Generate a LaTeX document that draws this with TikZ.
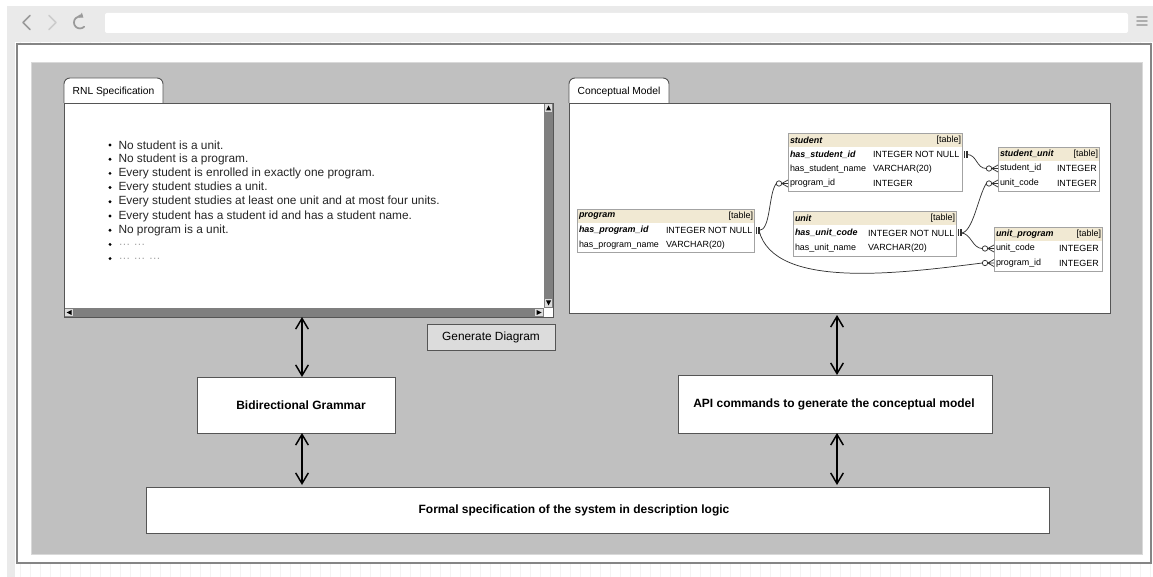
\documentclass[tikz,border=0pt]{standalone}
\usepackage{fontspec}
\setmainfont{Liberation Sans}
\usetikzlibrary{arrows.meta,positioning,calc}

\definecolor{bargray}{HTML}{EAEAEA}
\definecolor{gridgray}{HTML}{F3F3F3}
\definecolor{icongray}{HTML}{9A9A9A}
\definecolor{framegray}{HTML}{858585}
\definecolor{panelgray}{HTML}{C0C0C0}
\definecolor{edgegray}{HTML}{555555}
\definecolor{scrollgray}{HTML}{7F7F7F}
\definecolor{btngray}{HTML}{DCDCDC}
\definecolor{tblbeige}{HTML}{F1E9D3}
\definecolor{tblline}{HTML}{A3A3A3}

\newcommand{\pxu}{0.75pt}
% one end: two bars right of the table border
\newcommand{\onemark}[1]{\draw[erline, line width=1.2pt] ($(#1)+(2.5,-3.5)$) -- ++(0,7) ($(#1)+(5,-3.5)$) -- ++(0,7);}
% many end: circle and crow foot left of the table border
\newcommand{\manymark}[1]{%
  \draw[erline] ($(#1)+(-6.3,0)$) -- (#1) ($(#1)+(-6.3,0)$) -- ($(#1)+(0,-3.5)$) ($(#1)+(-6.3,0)$) -- ($(#1)+(0,3.5)$);
  \draw[erline, fill=white] ($(#1)+(-9,0)$) circle[radius=2.7];}

\begin{document}
\begin{tikzpicture}[x=0.75pt, y=-0.75pt]

\tikzset{every node/.style = {inner sep=0pt, outer sep=0pt}}
\tikzset{icon/.style = {draw=icongray, line width=1.3pt, line cap=round, line join=round}}
\tikzset{tabshape/.style = {draw=edgegray, fill=white, line width=0.7pt, rounded corners=4.5pt}}
\tikzset{tablabel/.style = {font=\fontsize{7.7}{9}\selectfont}}
\tikzset{pane/.style = {rectangle, draw=edgegray, fill=white, line width=0.7pt}}
\tikzset{listitem/.style = {anchor=west, text=black!85, font=\fontsize{8.9}{10}\selectfont}}
\tikzset{procbox/.style = {rectangle, draw=edgegray, fill=white, line width=0.7pt}}
\tikzset{proctext/.style = {font=\fontsize{9}{11}\selectfont\bfseries}}
\tikzset{genbtn/.style = {rectangle, draw=edgegray, fill=btngray, line width=0.7pt, font=\fontsize{8.9}{10}\selectfont}}
\tikzset{biarrow/.style = {{Straight Barb[length=8pt,width=9.5pt]}-{Straight Barb[length=8pt,width=9.5pt]}, line width=1.1pt}}
\tikzset{tblbox/.style = {rectangle, draw=tblline, fill=white, line width=0.6pt, anchor=north west}}
\tikzset{tblhd/.style = {rectangle, fill=tblbeige, anchor=north west, minimum height=14*\pxu}}
\tikzset{tbltxt/.style = {anchor=west, font=\fontsize{6.7}{8}\selectfont}}
\tikzset{tblkey/.style = {anchor=west, font=\fontsize{6.7}{8}\selectfont\bfseries\itshape}}
\tikzset{tbltag/.style = {anchor=east, font=\fontsize{6.7}{8}\selectfont}}
\tikzset{erline/.style = {draw=black!80, line width=0.55pt}}

\useasboundingbox (0,0) rectangle (1153,577);

% browser window
\fill[bargray] (7,6) rectangle (1153,42);
\fill[bargray] (7,42) rectangle (15,577);
\draw[gridgray, step=10] (15,42) grid (1153,577);
\fill[white, rounded corners=1.5pt] (105,13) rectangle (1128,33);
\draw[icon] (30,15.5) -- (23,22.5) -- (30,29.5);
\draw[icon, draw=icongray!50] (49,15.5) -- (56,22.5) -- (49,29.5);
\draw[icon, -{Triangle[length=3pt,width=4.5pt]}] (84.2,26.7) arc[start angle=45, end angle=305, radius=6];
\draw[icon, draw=icongray!80, line width=1.4pt] (1137,17) -- (1147,17) (1137,21) -- (1147,21) (1137,25) -- (1147,25);
\draw[draw=framegray, fill=white, line width=1pt] (17,44) rectangle (1151,563);
\draw[draw=panelgray!60!white, fill=panelgray, line width=0.6pt] (31,62) rectangle (1142,554);

% RNL specification pane
\draw[tabshape] (64,103) -- (64,78) -- (163,78) -- (163,103);
\node[tablabel] (rnltab) at (113.5,91.5) {RNL Specification};
\node[pane, minimum width=489*\pxu, minimum height=214*\pxu] (rnl) at (308.5,210) {};
\fill[scrollgray] (544,103) rectangle (553,308);
\fill[scrollgray] (64,308) rectangle (544,317);
\fill[white] (544,308) rectangle (553,317);
\fill[btngray] (545,104) rectangle (552,112);
\fill (546,110.5) -- (551,110.5) -- (548.5,105.5) -- cycle;
\fill[btngray] (545,299) rectangle (552,307);
\fill (546,300.5) -- (551,300.5) -- (548.5,305.5) -- cycle;
\fill[btngray] (65,309) rectangle (73,316);
\fill (71.5,310) -- (71.5,315) -- (66.5,312.5) -- cycle;
\fill[btngray] (535,309) rectangle (543,316);
\fill (536.5,310) -- (536.5,315) -- (541.5,312.5) -- cycle;
\draw[edgegray, line width=0.7pt] (rnl.north west) rectangle (rnl.south east);

\foreach \rule [count=\i from 0] in {No student is a unit., No student is a program., Every student is enrolled in exactly one program., Every student studies a unit., Every student studies at least one unit and at most four units., Every student has a student id and has a student name., No program is a unit.}
{
  \fill (110,145+14.2*\i) circle[radius=1.6];
  \node[listitem] (rule\i) at (118.5,145+14.2*\i) {\rule};
}
\fill (110,244.4) circle[radius=1.6];
\node[listitem, text=black!35] (more1) at (118.5,244.4) {… …};
\fill (110,258.6) circle[radius=1.6];
\node[listitem, text=black!35] (more2) at (118.5,258.6) {… … …};

\node[genbtn, minimum width=128*\pxu, minimum height=26*\pxu] (gen) at (491,337) {Generate Diagram};

% conceptual model pane
\draw[tabshape] (569,103) -- (569,78) -- (669,78) -- (669,103);
\node[tablabel] (cmtab) at (619,91.5) {Conceptual Model};
\node[pane, minimum width=541*\pxu, minimum height=210*\pxu] (cm) at (839.5,208) {};

% tables
\node[tblbox, minimum width=177*\pxu, minimum height=43*\pxu] (program)  at (577,209) {};
\node[tblhd,  minimum width=177*\pxu]                         (programh) at (577,209) {};
\node[tblkey] (prog_t)  at (579,216)   {program};
\node[tbltag] (prog_g)  at (753,216)   {[table]};
\node[tblkey] (prog_r1) at (579,230.5) {has\_program\_id};
\node[tbltxt] (prog_c1) at (666,230.5) {INTEGER NOT NULL};
\node[tbltxt] (prog_r2) at (579,245)   {has\_program\_name};
\node[tbltxt] (prog_c2) at (666,245)   {VARCHAR(20)};

\node[tblbox, minimum width=174*\pxu, minimum height=58*\pxu] (student)  at (788,133) {};
\node[tblhd,  minimum width=174*\pxu]                         (studenth) at (788,133) {};
\node[tblkey] (stu_t)  at (790,140)   {student};
\node[tbltag] (stu_g)  at (961,140)   {[table]};
\node[tblkey] (stu_r1) at (790,154.5) {has\_student\_id};
\node[tbltxt] (stu_c1) at (873,154.5) {INTEGER NOT NULL};
\node[tbltxt] (stu_r2) at (790,169)   {has\_student\_name};
\node[tbltxt] (stu_c2) at (873,169)   {VARCHAR(20)};
\node[tbltxt] (stu_r3) at (790,183.5) {program\_id};
\node[tbltxt] (stu_c3) at (873,183.5) {INTEGER};

\node[tblbox, minimum width=101*\pxu, minimum height=44*\pxu] (stuunit)  at (998,147) {};
\node[tblhd,  minimum width=101*\pxu]                         (stuunith) at (998,147) {};
\node[tblkey] (su_t)  at (1000,154)   {student\_unit};
\node[tbltag] (su_g)  at (1098,154)   {[table]};
\node[tbltxt] (su_r1) at (1000,168.5) {student\_id};
\node[tbltxt] (su_c1) at (1057,168.5) {INTEGER};
\node[tbltxt] (su_r2) at (1000,183.5) {unit\_code};
\node[tbltxt] (su_c2) at (1057,183.5) {INTEGER};

\node[tblbox, minimum width=163*\pxu, minimum height=45*\pxu] (unit)  at (793,211) {};
\node[tblhd,  minimum width=163*\pxu]                         (unith) at (793,211) {};
\node[tblkey] (unit_t)  at (795,218) {unit};
\node[tbltag] (unit_g)  at (955,218) {[table]};
\node[tblkey] (unit_r1) at (795,233) {has\_unit\_code};
\node[tbltxt] (unit_c1) at (868,233) {INTEGER NOT NULL};
\node[tbltxt] (unit_r2) at (795,248) {has\_unit\_name};
\node[tbltxt] (unit_c2) at (868,248) {VARCHAR(20)};

\node[tblbox, minimum width=108*\pxu, minimum height=44*\pxu] (unitprog)  at (994,227) {};
\node[tblhd,  minimum width=108*\pxu]                         (unitprogh) at (994,227) {};
\node[tblkey] (up_t)  at (996,234)   {unit\_program};
\node[tbltag] (up_g)  at (1101,234)  {[table]};
\node[tbltxt] (up_r1) at (996,248.5) {unit\_code};
\node[tbltxt] (up_c1) at (1059,248.5) {INTEGER};
\node[tbltxt] (up_r2) at (996,263)   {program\_id};
\node[tbltxt] (up_c2) at (1059,263)  {INTEGER};

\foreach \t in {program, student, stuunit, unit, unitprog}
  \draw[tblline, line width=0.6pt] (\t.north west) rectangle (\t.south east);

% relationship ends
\coordinate (prog_e)   at (754,230.5);
\coordinate (stu_e)    at (962,154.5);
\coordinate (unit_e)   at (956,233);
\coordinate (stu_pid)  at (788,183.5);
\coordinate (su_sid)   at (998,168.5);
\coordinate (su_uc)    at (998,183.5);
\coordinate (up_uc)    at (994,248.5);
\coordinate (up_pid)   at (994,263);

\coordinate (prog_out) at ($(prog_e)+(5,0)$);
\coordinate (stu_out)  at ($(stu_e)+(5,0)$);
\coordinate (unit_out) at ($(unit_e)+(5,0)$);
\coordinate (stu_in)   at ($(stu_pid)+(-11.7,0)$);
\coordinate (su_sin)   at ($(su_sid)+(-11.7,0)$);
\coordinate (su_uin)   at ($(su_uc)+(-11.7,0)$);
\coordinate (up_uin)   at ($(up_uc)+(-11.7,0)$);
\coordinate (up_pin)   at ($(up_pid)+(-11.7,0)$);

\draw[erline] (prog_out) .. controls +(12,0) and +(-8,10) .. (stu_in);
\draw[erline] (prog_out) .. controls +(15,60) and +(-80,10) .. (up_pin);
\draw[erline] (stu_out)  .. controls +(10,0) and +(-10,0) .. (su_sin);
\draw[erline] (unit_out) .. controls +(12,0) and +(-8,12) .. (su_uin);
\draw[erline] (unit_out) .. controls +(10,0) and +(-10,0) .. (up_uin);

\onemark{prog_e}
\onemark{stu_e}
\onemark{unit_e}
\manymark{stu_pid}
\manymark{su_sid}
\manymark{su_uc}
\manymark{up_uc}
\manymark{up_pid}

% processing boxes
\node[procbox, minimum width=198*\pxu, minimum height=56*\pxu] (grammar) at (296,405)   {};
\node[procbox, minimum width=314*\pxu, minimum height=58*\pxu] (api)     at (835,404)   {};
\node[procbox, minimum width=903*\pxu, minimum height=46*\pxu] (formal)  at (597.5,510) {};
\node[proctext] (grammar_t) at (301,405)   {Bidirectional Grammar};
\node[proctext] (api_t)     at (834,404)   {API commands to generate the conceptual model};
\node[proctext] (formal_t)  at (574,510)   {Formal specification of the system in description logic};

\coordinate (leftaxis)  at (302,0);
\coordinate (rightaxis) at (837,0);

\draw[biarrow] (rnl.south -| leftaxis)   -- (grammar.north -| leftaxis);
\draw[biarrow] (grammar.south -| leftaxis) -- ([yshift=1.5pt]formal.north -| leftaxis);
\draw[biarrow] ([yshift=-1.5pt]cm.south -| rightaxis) -- (api.north -| rightaxis);
\draw[biarrow] (api.south -| rightaxis)  -- ([yshift=1.5pt]formal.north -| rightaxis);

\end{tikzpicture}
\end{document}
